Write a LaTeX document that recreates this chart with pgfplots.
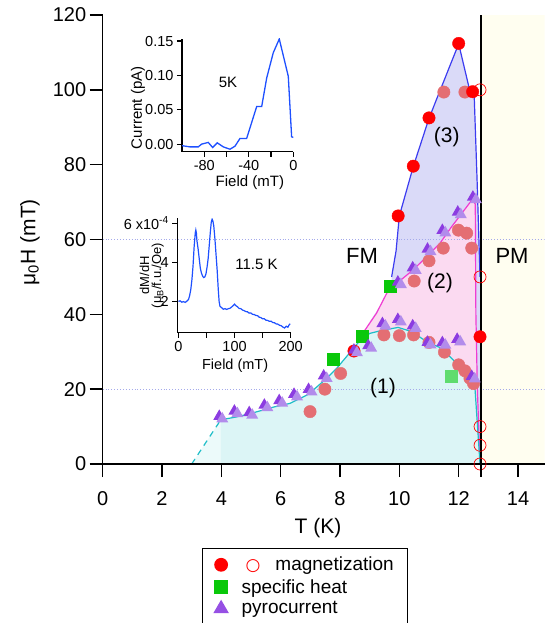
\documentclass[border=0pt]{standalone}
\usepackage{fontspec}
\setmainfont{Liberation Sans}
\newfontfamily\dejavu{DejaVu Sans}
\usepackage{pgfplots}
\pgfplotsset{compat=1.18}
\definecolor{cyanline}{RGB}{30,190,200}
\definecolor{cyanfill}{RGB}{220,245,246}
\definecolor{cyanfilllt}{RGB}{236,250,250}
\definecolor{magline}{RGB}{240,60,210}
\definecolor{pinkfill}{RGB}{251,218,241}
\definecolor{blueline}{RGB}{60,60,240}
\definecolor{bluefill}{RGB}{218,218,248}
\definecolor{pmfill}{RGB}{255,254,240}
\definecolor{lightred}{RGB}{228,110,115}
\definecolor{mygreen}{RGB}{10,200,10}
\definecolor{lightgreen}{RGB}{95,220,110}
\definecolor{tridark}{RGB}{140,60,225}
\definecolor{trilight}{RGB}{178,140,235}
\definecolor{gridblue}{RGB}{165,170,235}
\definecolor{curveblue}{RGB}{30,80,255}
\pgfdeclareplotmark{twotri}{%
  \pgfsetfillcolor{tridark}%
  \pgfpathmoveto{\pgfqpoint{-1.5pt}{7.5pt}}%
  \pgfpathlineto{\pgfqpoint{-7.5pt}{-3pt}}%
  \pgfpathlineto{\pgfqpoint{4.5pt}{-3pt}}%
  \pgfpathclose\pgfusepath{fill}%
  \pgfsetfillcolor{trilight}%
  \pgfpathmoveto{\pgfqpoint{1.5pt}{5pt}}%
  \pgfpathlineto{\pgfqpoint{-4.5pt}{-5.5pt}}%
  \pgfpathlineto{\pgfqpoint{7.5pt}{-5.5pt}}%
  \pgfpathclose\pgfusepath{fill}%
}
\begin{document}
\begin{tikzpicture}
\begin{axis}[
  scale only axis, width=442pt, height=449pt,
  xmin=0, xmax=14.9, ymin=0, ymax=120,
  axis x line*=bottom, axis y line*=left, axis line style={line width=1.4pt},
  axis on top,
  xtick={0,2,...,14}, ytick={0,20,...,120},
  tick align=outside, xtick pos=bottom, ytick pos=left,
  major tick length=13pt,
  xtick style={line width=1.4pt, black},
  ytick style={line width=1.4pt, black},
  /pgf/number format/assume math mode=true,
  ticklabel style={font=\fontsize{20}{24}\selectfont, fill=none},
  xticklabel shift=11pt,
  xlabel={T (K)}, ylabel={μ\textsubscript{0}H (mT)},
  label style={font=\fontsize{21}{25}\selectfont},
  xlabel style={at={(axis description cs:0.487,-0.1425)}, anchor=center},
  ylabel style={at={(axis description cs:-0.1645,0.494)}, anchor=center},
  legend style={at={(0.2245,-0.187)}, anchor=north west, draw=black, fill=none, line width=1.4pt,
    font=\fontsize{19}{21}\selectfont, inner xsep=12pt, inner ysep=6.5pt, row sep=3pt,
    /tikz/every odd column/.append style={column sep=12pt}},
  legend cell align=left,
]
\addlegendimage{only marks, mark=*, mark size=6.2pt, red}
\addlegendentry{\hspace{4pt}{\dejavu\fontsize{17}{17}\selectfont\textcolor{red}{○}}\hspace{15pt}magnetization}
\addlegendimage{only marks, mark=square*, mark size=6pt, mygreen}
\addlegendentry{specific heat}
\addlegendimage{only marks, mark=triangle*, mark size=7.5pt, color=tridark!75!trilight}
\addlegendentry{pyrocurrent}

% PM region
\addplot[forget plot, fill=pmfill, draw=none] coordinates {(12.75,0) (14.9,0) (14.9,120) (12.75,120)} -- cycle;
% region (3)
\addplot[forget plot, fill=bluefill, draw=none] coordinates {(9.74,50) (9.89,57) (10.0,66.3) (10.47,79.5) (11.0,92.4) (12.0,112.3) (12.38,99.6) (12.52,99.2) (12.62,76) (12.72,50) (12.72,0) (9.0,38) (9.74,47)} -- cycle;
% region (2)
\addplot[forget plot, fill=pinkfill, draw=none] coordinates {(8.62,33) (8.73,34.5) (9.23,40.3) (9.63,46.5) (9.85,47.9) (10.47,51.9) (11.03,56.3) (11.37,59) (11.76,63.4) (12.45,70.6) (12.56,69.5) (12.58,40) (12.63,20) (12.72,0) (8.62,0)} -- cycle;
% region (1)
\addplot[forget plot, fill=cyanfilllt, draw=none] coordinates {(3.0,0) (3.98,11.8) (3.98,0)} -- cycle;
\addplot[forget plot, fill=cyanfill, draw=none] coordinates {(3.98,11.8) (4.52,12.6) (5.08,13.7) (5.75,15.2) (6.31,16.2) (6.88,18.4) (7.16,20.2) (7.55,22.9) (7.89,25.6) (8.22,28.7) (8.62,32.5) (9.0,34.9) (9.46,35.8) (9.96,36.5) (10.41,35.4) (10.92,32.7) (11.43,30.9) (11.93,26.9) (12.27,24.2) (12.49,21.1) (12.55,20.2) (12.72,0) (3.98,0)} -- cycle;
% dotted lines
\addplot[forget plot, gridblue, dotted, line width=0.9pt] coordinates {(0,20) (14.9,20)};
\addplot[forget plot, gridblue, dotted, line width=0.9pt] coordinates {(0,60) (14.9,60)};
% markers
\addplot[forget plot, only marks, mark=*, mark size=6.2pt, draw=lightred, fill=lightred] coordinates {
(6.99,14.0) (7.49,20.0) (8.02,24.2) (9.48,34.5) (10.0,34.3) (10.48,34.5) (11.0,32.5) (11.52,29.9) (12.0,26.5) (12.21,24.9) (12.38,22.9) (12.5,21.5)
(10.5,48.9) (11.0,54.3) (11.48,57.7) (11.99,62.5) (12.27,61.7) (12.44,57.7) (11.5,99.4) (12.21,99.4)};
\addplot[forget plot, only marks, mark=*, mark size=6.2pt, red] coordinates {
(8.47,30.2) (9.96,66.3) (10.47,79.6) (11.0,92.5) (12.0,112.4) (12.47,99.5) (12.72,34.0)};
\addplot[forget plot, only marks, mark=o, mark size=6pt, red, mark options={line width=0.7pt}] coordinates {
(12.72,0) (12.72,5) (12.72,10) (12.72,50) (12.72,100)};
\addplot[forget plot, only marks, mark=square*, mark size=6pt, mygreen] coordinates {(7.77,27.9) (8.75,34.2) (9.68,47.4)};
\addplot[forget plot, only marks, mark=square*, mark size=6pt, lightgreen] coordinates {(11.76,23.4)};
\addplot[forget plot, only marks, mark=twotri] coordinates {
(3.98,12.6) (4.49,14.0) (4.99,13.6) (5.5,15.6) (6.0,16.8) (6.5,18.5) (6.99,19.8) (7.5,23.4) (8.52,30.3) (9.0,31.5) (9.48,37.4) (10.0,38.5) (10.5,36.8) (11.0,32.4) (11.5,32.3) (12.0,33.2) (12.49,23.3)
(10.0,48.5) (10.5,52.3) (11.0,57.3) (11.5,62.3) (12.02,67.2) (12.53,71.2)};
% boundary lines
\addplot[forget plot, blueline, line width=1.2pt] coordinates {(9.74,50) (9.89,57) (10.0,66.3) (10.47,79.5) (11.0,92.4) (12.0,112.3) (12.38,99.6) (12.52,99.2) (12.62,76) (12.72,50)};
\addplot[forget plot, magline, line width=1.2pt] coordinates {(8.62,33) (8.73,34.5) (9.23,40.3) (9.63,46.5) (9.85,47.9) (10.47,51.9) (11.03,56.3) (11.37,59) (11.76,63.4) (12.45,70.6) (12.56,69.5) (12.58,40) (12.63,20) (12.72,0)};
\addplot[forget plot, cyanline, line width=1.2pt, dash pattern=on 6pt off 5pt] coordinates {(3.0,0) (3.98,11.8)};
\addplot[forget plot, cyanline, line width=1.2pt] coordinates {(3.98,11.8) (4.52,12.6) (5.08,13.7) (5.75,15.2) (6.31,16.2) (6.88,18.4) (7.16,20.2) (7.55,22.9) (7.89,25.6) (8.22,28.7) (8.62,32.5) (9.0,34.9) (9.46,35.8) (9.96,36.5) (10.41,35.4) (10.92,32.7) (11.43,30.9) (11.93,26.9) (12.27,24.2) (12.49,21.1) (12.55,20.2) (12.72,0)};
% phase boundary line
\addplot[forget plot, black, line width=1.3pt] coordinates {(12.75,0) (12.75,120)};
\node[font=\fontsize{22}{26}\selectfont] at (axis cs:8.74,55.6) {FM};
\node[font=\fontsize{22}{26}\selectfont] at (axis cs:13.8,55.6) {PM};
\node[font=\fontsize{21}{25}\selectfont] at (axis cs:9.45,20.3) {(1)};
\node[font=\fontsize{21}{25}\selectfont] at (axis cs:11.37,48.4) {(2)};
\node[font=\fontsize{21}{25}\selectfont] at (axis cs:11.6,87.4) {(3)};
\end{axis}

% inset 1
\begin{axis}[
  at={(79.3pt,312.3pt)}, anchor=south west,
  scale only axis, width=111.3pt, height=112.7pt,
  xmin=-100, xmax=0, ymin=-0.011, ymax=0.153,
  axis x line*=bottom, axis y line*=left, axis line style={line width=1.3pt},
  xtick={-80,-60,-40,-20,0}, xticklabels={-80,,-40,,0},
  ytick={0,0.05,0.1,0.15}, yticklabels={0.00,0.05,0.10,0.15},
  tick align=outside, major tick length=5pt,
  tick style={line width=1.2pt, black},
  ticklabel style={font=\fontsize{14.5}{16}\selectfont},
  xlabel={Field (mT)}, ylabel={Current (pA)},
  label style={font=\fontsize{15}{17}\selectfont},
  xlabel style={at={(axis description cs:0.61,-0.278)}, anchor=center},
  ylabel style={at={(axis description cs:-0.395,0.39)}, anchor=center},
]
\addplot[curveblue, line width=1.3pt] coordinates {
(-100,-0.002) (-98.9,-0.0025) (-92.9,-0.004) (-85.4,-0.004) (-82.4,0) (-76.4,0.0025) (-72.5,-0.0049) (-68.3,0.0019) (-62.9,-0.004) (-56.9,-0.0074) (-52.4,-0.003) (-47.9,0.0083) (-41.9,0.0083) (-32.9,0.0547) (-28.4,0.0547) (-23.9,0.0963) (-18,0.133) (-12.6,0.153) (-4.5,0.0987) (-1.5,0.0107) (0,0.0098)};
\node[font=\fontsize{15}{17}\selectfont] at (axis cs:-58.7,0.0894) {5K};
\end{axis}

% inset 2
\begin{axis}[
  at={(74.6pt,131.3pt)}, anchor=south west,
  scale only axis, width=113.4pt, height=114.4pt,
  xmin=-2, xmax=200, ymin=0.4, ymax=6.25,
  axis x line*=bottom, axis y line*=left, axis line style={line width=1.3pt},
  xtick={0,50,...,200}, xticklabels={0,,100,,200},
  ytick={2,4,6}, yticklabels={2,4,{6 x10\textsuperscript{-4}}},
  tick align=outside, major tick length=5pt,
  tick style={line width=1.2pt, black},
  ticklabel style={font=\fontsize{14.5}{16}\selectfont},
  xlabel={Field (mT)}, ylabel={dM/dH\\(μ\textsubscript{B}/f.u./Oe)},
  label style={font=\fontsize{14.5}{16}\selectfont},
  xlabel style={at={(axis description cs:0.51,-0.29)}, anchor=center},
  ylabel style={at={(axis description cs:-0.225,0.5)}, anchor=center, align=center, font=\fontsize{13}{12}\selectfont},
]
\addplot[curveblue, line width=1.2pt] coordinates {
(0,2.0) (3,2.03) (6,1.96) (9,1.99) (12,1.95) (15,2.01) (18,2.1) (20,2.3) (22,2.6) (24,3.1) (26,3.8) (28,4.8) (30,5.5) (31,5.65) (32,5.5) (33,5.1) (35,4.7) (37,4.2) (39,3.7) (41,3.45) (43,3.3) (45,3.22) (47,3.25) (49,3.4) (51,3.75) (53,4.2) (55,4.9) (57,5.6) (58.5,6.05) (60,6.2) (61.5,6.1) (63,5.85) (65,5.2) (67,4.4) (69,3.6) (71,2.6) (72.5,2.0) (74,1.75) (77,1.68) (80,1.6) (83,1.63) (86,1.59) (89,1.63) (92,1.65) (95,1.72) (98,1.8) (100,1.86) (102,1.79) (105,1.73) (108,1.64) (111,1.63) (114,1.56) (117,1.53) (120,1.48) (123,1.47) (126,1.4) (129,1.41) (132,1.34) (135,1.33) (138,1.28) (141,1.27) (144,1.19) (147,1.17) (150,1.11) (153,1.11) (156,1.04) (159,1.03) (162,0.98) (165,0.99) (168,0.92) (171,0.91) (174,0.85) (177,0.84) (180,0.78) (183,0.76) (186,0.69) (189,0.64) (192,0.73) (195,0.68) (197,0.79) (199,0.86)};
\node[font=\fontsize{15}{17}\selectfont] at (axis cs:139,3.87) {11.5 K};
\end{axis}
% x tick marks of the main axis, drawn last (442pt / 14.9 K per unit)
\foreach \xt in {0,2,4,6,8,10,12,14,12.75}
  \draw[black, line width=1.5pt] ({\xt*29.6644pt},0.7pt) -- ({\xt*29.6644pt},-13.5pt);
\pgfresetboundingbox
\path (-102.7pt,-159pt) rectangle (442.3pt,464pt);
\end{tikzpicture}
\end{document}
